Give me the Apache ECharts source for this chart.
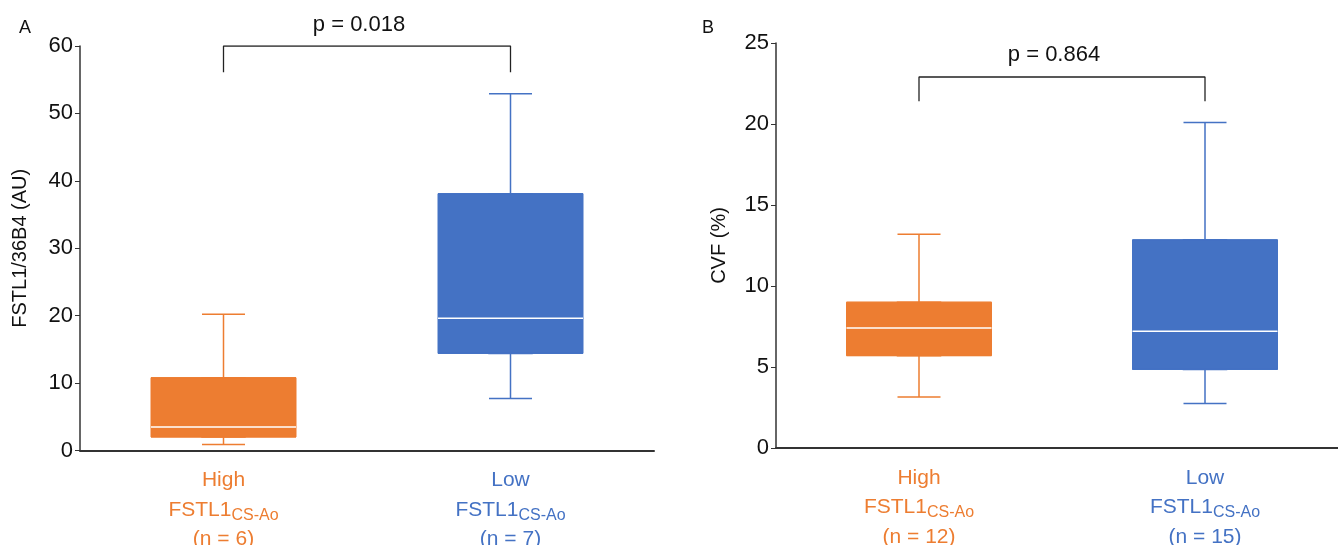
<!DOCTYPE html>
<html>
<head>
<meta charset="utf-8">
<script src="https://cdn.jsdelivr.net/npm/echarts@6/dist/echarts.min.js"></script>
<style>
html,body{margin:0;padding:0;background:#fff;}
#c{width:1338px;height:545px;}
</style>
</head>
<body>
<div id="c"></div>
<script>
// ---- Data ----
const categories = ['High', 'Low'];
const groupSizesA = [6, 7];
const groupSizesB = [12, 15];
// [min, Q1, median, Q3, max]
const boxA_high = [0.9, 2.0, 3.5, 10.8, 20.2];
const boxA_low = [7.7, 14.4, 19.6, 38.1, 52.9];
const boxB_high = [3.15, 5.7, 7.4, 9.0, 13.2];
const boxB_low = [2.75, 4.85, 7.2, 12.85, 20.1];
const yTicksA = [0, 10, 20, 30, 40, 50, 60];
const yTicksB = [0, 5, 10, 15, 20, 25];
const bracketA = [56.1, 60];
const bracketB = [21.4, 22.9];
const pValueA = 'p = 0.018';
const pValueB = 'p = 0.864';

const ORANGE = '#ED7D31';
const BLUE = '#4472C4';
const FONT = 'Liberation Sans, Arial, sans-serif';

function catLabel(sizes) {
  return {
    interval: 0,
    margin: 15,
    fontFamily: FONT,
    formatter: function (v, i) {
      const st = i === 0 ? 'o' : 'b';
      return '{' + st + '|' + v + '}\n{' + st + '|FSTL1}{' + st + 's|CS-Ao}\n{' + st + '|(n = ' + sizes[i] + ')}';
    },
    rich: {
      o: { color: ORANGE, fontSize: 21, lineHeight: 29.5, fontFamily: FONT },
      os: { color: ORANGE, fontSize: 16, lineHeight: 29.5, fontFamily: FONT, padding: [11, 0, 0, 0] },
      b: { color: BLUE, fontSize: 21, lineHeight: 29.5, fontFamily: FONT },
      bs: { color: BLUE, fontSize: 16, lineHeight: 29.5, fontFamily: FONT, padding: [11, 0, 0, 0] }
    }
  };
}

function xAxisBase(gridIndex, sizes, show) {
  return {
    type: 'category',
    gridIndex: gridIndex,
    data: categories,
    show: show,
    boundaryGap: true,
    axisLine: { show: true, lineStyle: { color: '#333', width: 2 } },
    axisTick: { show: false },
    axisLabel: catLabel(sizes),
    splitLine: { show: false }
  };
}

function yAxisBase(gridIndex, ticks, name, nameGap) {
  const interval = ticks[1] - ticks[0];
  return {
    type: 'value',
    gridIndex: gridIndex,
    min: ticks[0],
    max: ticks[ticks.length - 1],
    interval: interval,
    name: name,
    nameLocation: 'middle',
    nameGap: nameGap,
    nameTextStyle: { fontSize: 20, color: '#111', fontFamily: FONT },
    axisLine: { show: true, lineStyle: { color: '#333', width: 1.5 } },
    axisTick: { show: true, length: 5, lineStyle: { color: '#333' } },
    axisLabel: { fontSize: 22, color: '#111', margin: 7, fontFamily: FONT },
    splitLine: { show: false }
  };
}

// whiskers (narrow caps) drawn underneath the box
function whiskerItem(v, color) {
  return { value: [v[0], v[1], v[1], v[3], v[4]], itemStyle: { color: color, borderColor: color, borderWidth: 1.5 } };
}
// box from Q1 to Q3
function boxItem(v, color) {
  return { value: [v[1], v[1], v[2], v[3], v[3]], itemStyle: { color: color, borderColor: color, borderWidth: 1 } };
}
// white median line
function medianItem(v) {
  const m = v[2];
  return { value: [m, m, m, m, m], itemStyle: { color: 'rgba(0,0,0,0)', borderColor: '#fff', borderWidth: 1.5 } };
}
function bracketData(b) {
  return [[categories[0], b[0]], [categories[0], b[1]], [categories[1], b[1]], [categories[1], b[0]]];
}

const chart = echarts.init(document.getElementById('c'), null, { renderer: 'canvas' });
chart.setOption({
  animation: false,
  backgroundColor: '#fff',
  textStyle: { fontFamily: FONT },
  title: [
    { text: 'A', left: 14, top: 14, textStyle: { fontSize: 18, fontWeight: 'normal', color: '#111', fontFamily: FONT } },
    { text: 'B', left: 697, top: 14, textStyle: { fontSize: 18, fontWeight: 'normal', color: '#111', fontFamily: FONT } },
    { text: pValueA, left: 354, top: 9, textAlign: 'center', textStyle: { fontSize: 22, fontWeight: 'normal', color: '#111', fontFamily: FONT } },
    { text: pValueB, left: 1049, top: 39, textAlign: 'center', textStyle: { fontSize: 22, fontWeight: 'normal', color: '#111', fontFamily: FONT } }
  ],
  grid: [
    { left: 80, top: 46, width: 574, height: 404.5, outerBoundsMode: 'none', containLabel: false },
    { left: 776, top: 43, width: 572, height: 405, outerBoundsMode: 'none', containLabel: false }
  ],
  xAxis: [
    xAxisBase(0, groupSizesA, true),
    xAxisBase(1, groupSizesB, true),
    xAxisBase(0, groupSizesA, false),
    xAxisBase(1, groupSizesB, false),
    xAxisBase(0, groupSizesA, false),
    xAxisBase(1, groupSizesB, false)
  ],
  yAxis: [
    yAxisBase(0, yTicksA, 'FSTL1/36B4 (AU)', 50),
    yAxisBase(1, yTicksB, 'CVF (%)', 47)
  ],
  series: [
    {
      type: 'boxplot', xAxisIndex: 2, yAxisIndex: 0, boxWidth: [43, 43], z: 2,
      data: [whiskerItem(boxA_high, ORANGE), whiskerItem(boxA_low, BLUE)]
    },
    {
      type: 'boxplot', xAxisIndex: 0, yAxisIndex: 0, boxWidth: [145, 145], z: 3,
      data: [boxItem(boxA_high, ORANGE), boxItem(boxA_low, BLUE)]
    },
    {
      type: 'boxplot', xAxisIndex: 4, yAxisIndex: 0, boxWidth: [145, 145], z: 4,
      data: [medianItem(boxA_high), medianItem(boxA_low)]
    },
    {
      type: 'boxplot', xAxisIndex: 3, yAxisIndex: 1, boxWidth: [43, 43], z: 2,
      data: [whiskerItem(boxB_high, ORANGE), whiskerItem(boxB_low, BLUE)]
    },
    {
      type: 'boxplot', xAxisIndex: 1, yAxisIndex: 1, boxWidth: [145, 145], z: 3,
      data: [boxItem(boxB_high, ORANGE), boxItem(boxB_low, BLUE)]
    },
    {
      type: 'boxplot', xAxisIndex: 5, yAxisIndex: 1, boxWidth: [145, 145], z: 4,
      data: [medianItem(boxB_high), medianItem(boxB_low)]
    },
    {
      type: 'line', xAxisIndex: 0, yAxisIndex: 0, data: bracketData(bracketA),
      symbol: 'none', lineStyle: { color: '#222', width: 1.3 }, silent: true
    },
    {
      type: 'line', xAxisIndex: 1, yAxisIndex: 1, data: bracketData(bracketB),
      symbol: 'none', lineStyle: { color: '#222', width: 1.3 }, silent: true
    }
  ]
});
</script>
</body>
</html>
